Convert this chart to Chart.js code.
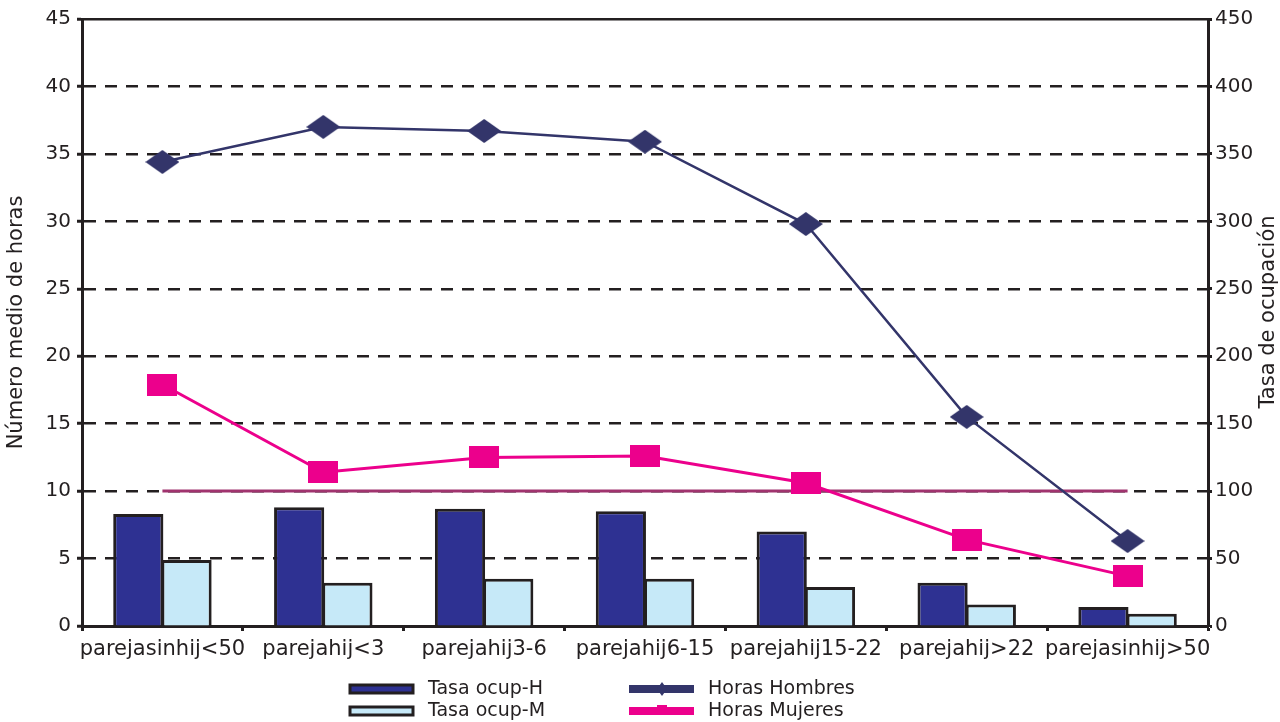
<!DOCTYPE html>
<html>
<head>
<meta charset="utf-8">
<script src="https://cdn.jsdelivr.net/npm/chart.js@4.4.1/dist/chart.umd.min.js"></script>
<style>
  html, body { margin: 0; padding: 0; background: #fff; }
  #wrap { width: 1280px; height: 722px; position: relative; }
</style>
</head>
<body>
<div id="wrap"><canvas id="grafico" width="1280" height="722"></canvas></div>
<script>
// Categorías del eje X
const categorias = ['parejasinhij<50', 'parejahij<3', 'parejahij3-6', 'parejahij6-15',
                    'parejahij15-22', 'parejahij>22', 'parejasinhij>50'];

// Tasas de ocupación (eje derecho)
const tasaOcupH = [83, 88, 87, 85, 70, 32, 14];
const tasaOcupM = [49, 32, 35, 35, 29, 16, 9];

// Número medio de horas (eje izquierdo)
const horasHombres = [34.4, 37.0, 36.7, 35.9, 29.8, 15.5, 6.3];
const horasMujeres = [17.9, 11.4, 12.5, 12.6, 10.6, 6.4, 3.7];

// Línea de referencia en 10 horas
const lineaReferencia = [10, 10, 10, 10, 10, 10, 10];

// Escalas
const escalaHoras = { min: 0, max: 45, paso: 5 };
const escalaTasa = { min: 0, max: 450, paso: 50 };

const tituloIzq = 'Número medio de horas';
const tituloDer = 'Tasa de ocupación';

const TINTA = '#231f20';
const FUENTE = '"DejaVu Sans", "Liberation Sans", Arial, sans-serif';

// Marcadores de los puntos
function marcador(w, h, color, forma) {
  const c = document.createElement('canvas');
  c.width = w; c.height = h;
  const g = c.getContext('2d');
  g.fillStyle = color;
  if (forma === 'rombo') {
    g.beginPath();
    g.moveTo(w / 2, 0); g.lineTo(w, h / 2); g.lineTo(w / 2, h); g.lineTo(0, h / 2);
    g.closePath(); g.fill();
  } else {
    g.fillRect(0, 0, w, h);
  }
  return c;
}

const COL_H_BAR = '#2e3192';
const COL_M_BAR = '#c6e9f8';
const COL_H_LIN = '#33356a';
const COL_M_LIN = '#ec008c';
const COL_REF = '#a0336e';

// Leyenda en dos columnas y título derecho leído de abajo arriba
const extras = {
  id: 'extras',
  afterDraw(chart) {
    const ctx = chart.ctx;
    const ds = chart.data.datasets;
    ctx.save();
    ctx.font = '19px ' + FUENTE;
    ctx.textBaseline = 'middle';
    ctx.fillStyle = TINTA;

    const filas = [689, 711];
    // barras
    [0, 1].forEach((k, r) => {
      const y = filas[r];
      ctx.fillStyle = ds[k].backgroundColor;
      ctx.fillRect(350, y - 4, 63, 8);
      ctx.lineWidth = 3;
      ctx.strokeStyle = TINTA;
      ctx.strokeRect(350, y - 4, 63, 8);
      ctx.fillStyle = TINTA;
      ctx.fillText(ds[k].label, 428, y);
    });
    // líneas
    [2, 3].forEach((k, r) => {
      const y = filas[r];
      ctx.fillStyle = ds[k].borderColor;
      ctx.fillRect(629, y - 4, 65, 8);
      if (r === 0) {
        ctx.beginPath();
        ctx.moveTo(662, y - 7); ctx.lineTo(667, y); ctx.lineTo(662, y + 7); ctx.lineTo(657, y);
        ctx.closePath(); ctx.fill();
      } else {
        ctx.fillRect(657, y - 6, 10, 10);
      }
      ctx.fillStyle = TINTA;
      ctx.fillText(ds[k].label, 708, y);
    });

    // título del eje derecho
    ctx.font = '21px ' + FUENTE;
    ctx.textAlign = 'center';
    ctx.translate(1269, 312);
    ctx.rotate(-Math.PI / 2);
    ctx.fillText(tituloDer, 0, 0);
    ctx.restore();
  }
};

new Chart(document.getElementById('grafico'), {
  data: {
    labels: categorias,
    datasets: [
      {
        type: 'bar', label: 'Tasa ocup-H', data: tasaOcupH, yAxisID: 'y1',
        backgroundColor: COL_H_BAR, borderColor: TINTA, borderWidth: 3,
        categoryPercentage: 0.6, barPercentage: 1.04, order: 2
      },
      {
        type: 'bar', label: 'Tasa ocup-M', data: tasaOcupM, yAxisID: 'y1',
        backgroundColor: COL_M_BAR, borderColor: TINTA, borderWidth: 3,
        categoryPercentage: 0.6, barPercentage: 1.04, order: 2
      },
      {
        type: 'line', label: 'Horas Hombres', data: horasHombres, yAxisID: 'y',
        borderColor: COL_H_LIN, backgroundColor: COL_H_LIN, borderWidth: 2.5,
        pointStyle: marcador(34, 24, COL_H_LIN, 'rombo'), pointRadius: 12,
        tension: 0, order: 0
      },
      {
        type: 'line', label: 'Horas Mujeres', data: horasMujeres, yAxisID: 'y',
        borderColor: COL_M_LIN, backgroundColor: COL_M_LIN, borderWidth: 3,
        pointStyle: marcador(30, 22, COL_M_LIN, 'rect'), pointRadius: 12,
        tension: 0, order: 0
      },
      {
        type: 'line', label: 'Referencia', data: lineaReferencia, yAxisID: 'y',
        borderColor: COL_REF, borderWidth: 3, pointRadius: 0, tension: 0, order: 1
      }
    ]
  },
  options: {
    responsive: false,
    animation: false,
    devicePixelRatio: 1,
    layout: { padding: { top: 19, left: 0, right: 0, bottom: 0 } },
    plugins: { legend: { display: false }, tooltip: { enabled: false } },
    events: [],
    scales: {
      x: {
        type: 'category',
        offset: true,
        grid: { display: true, drawOnChartArea: false, drawTicks: true, offset: true,
                tickLength: 5, tickWidth: 3, tickColor: TINTA },
        border: { display: true, color: TINTA, width: 3 },
        ticks: { color: TINTA, font: { family: FUENTE, size: 21 }, padding: 6,
                 maxRotation: 0, autoSkip: false },
        afterFit(s) { s.height = 96; }
      },
      y: {
        type: 'linear', position: 'left',
        min: escalaHoras.min, max: escalaHoras.max,
        ticks: { stepSize: escalaHoras.paso, color: TINTA, font: { family: FUENTE, size: 20 }, padding: 6 },
        grid: { color: TINTA, lineWidth: 2.5, drawTicks: true, tickLength: 5, tickWidth: 3,
                tickColor: TINTA, tickBorderDash: [] },
        border: { display: true, color: TINTA, width: 3,
                  dash: (c) => (c.tick && (c.tick.value === escalaHoras.max || c.tick.value === escalaHoras.min)) ? [] : [12, 9] },
        title: { display: true, text: tituloIzq, color: TINTA, font: { family: FUENTE, size: 21 },
                 padding: { top: 4, bottom: 0 } },
        afterFit(s) { s.width = 82; }
      },
      y1: {
        type: 'linear', position: 'right',
        min: escalaTasa.min, max: escalaTasa.max,
        ticks: { stepSize: escalaTasa.paso, color: TINTA, font: { family: FUENTE, size: 20 }, padding: 3 },
        grid: { drawOnChartArea: false, drawTicks: true, tickLength: 4, tickWidth: 3, tickColor: TINTA },
        border: { display: true, color: TINTA, width: 3 },
        afterFit(s) { s.width = 72; }
      }
    }
  },
  plugins: [extras]
});
</script>
</body>
</html>
